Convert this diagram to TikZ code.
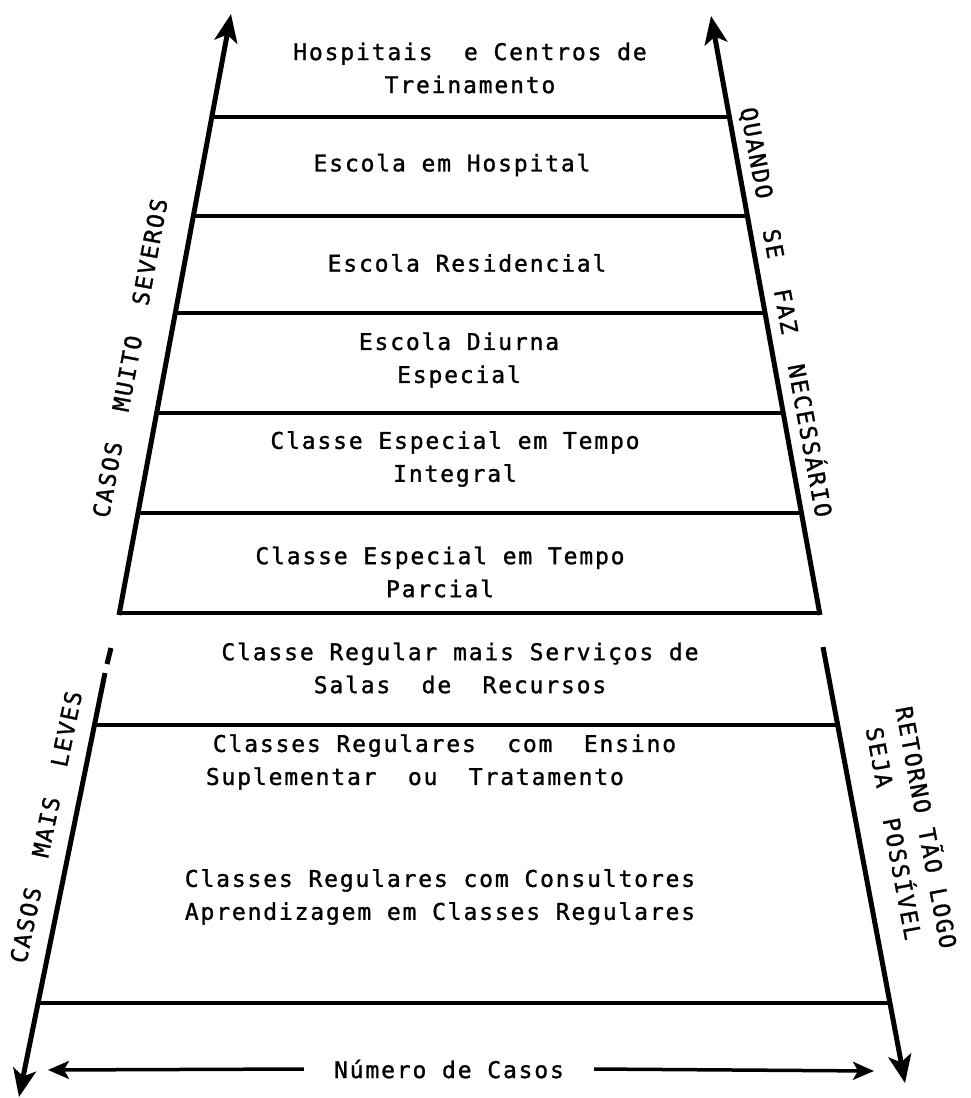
\documentclass[tikz,border=0pt]{standalone}
\usepackage{fontspec}
\usetikzlibrary{arrows.meta}
\newfontfamily\typefont{DejaVu Sans Mono}[LetterSpace=8, FakeBold=1.2]

\begin{document}
\begin{tikzpicture}[x=1pt, y=-1pt,
	side/.style={line width=5pt},
	rung/.style={line width=4pt},
	up/.style={side, -{Stealth[length=28pt, width=23pt, inset=7pt]}},
	wide/.style={line width=3.5pt, -{Stealth[length=21pt, width=18pt, inset=5pt]}},
	label/.style={font=\typefont\fontsize{23}{33}\selectfont, align=center, inner sep=0pt}]
	\useasboundingbox (0,0) rectangle (971,1098);
	\begin{scope}
	\draw[up] (119,615) -- (231,14);
	\draw[up] (820,615) -- (711,16);
	\draw[rung] (211.8,117) -- (729.1,117);
	\draw[rung] (193.4,216) -- (747.2,216);
	\draw[rung] (175.3,313) -- (765.0,313);
	\draw[rung] (156.7,413) -- (783.3,413);
	\draw[rung] (138.0,513) -- (801.6,513);
	\draw[rung] (119.4,613) -- (819.9,613);
	\node[label] (1) at (470,68) {Hospitais~ e Centros de\\Treinamento};
	\node[label] (2) at (452,165) {Escola em Hospital};
	\node[label] (3) at (467,263) {Escola Residencial};
	\node[label] (4) at (459,360) {Escola Diurna\\Especial};
	\node[label] (5) at (455,459) {Classe Especial em Tempo\\Integral};
	\node[label] (6) at (440,572) {Classe Especial em Tempo\\Parcial};
	\node[label, rotate=79.5] (11) at (130,358) {CASOS~ MUITO~ SEVEROS};
	\node[label, rotate=-79.5] (12) at (787,312) {QUANDO~ SE~ FAZ~ NECESSÁRIO};
	\end{scope}
	\begin{scope}
	\draw[side] (111,648) -- (107,664);
	\draw[up] (105,673) -- (19,1097);
	\draw[up] (823,647) -- (905,1083);
	\draw[rung] (95,725) -- (837.6,725);
	\draw[rung] (37.4,1003) -- (889.6,1003);
	\node[label] (7) at (460,668) {Classe Regular mais Serviços de\\Salas~ de~ Recursos};
	\node[label, align=left] (8) at (441,762) {\hspace*{7pt}Classes Regulares~ com~ Ensino\\Suplementar~ ou~ Tratamento};
	\node[label] (9) at (440,897) {Classes Regulares com Consultores\\Aprendizagem em Classes Regulares};
	\node[label, rotate=78.3] (13) at (46,827) {CASOS~ MAIS~ LEVES};
	\node[label, rotate=-79.4] (14) at (912,830) {RETORNO TÃO LOGO\\SEJA~ POSSÍVEL};
	\node[label, inner xsep=30pt] (20) at (449,1069) {Número de Casos};
	\coordinate (21) at (48,1070);
	\coordinate (22) at (874,1071);
	\draw[wide] (20.west) -- (21);
	\draw[wide] (20.east) -- (22);
	\end{scope}
\end{tikzpicture}
\end{document}
